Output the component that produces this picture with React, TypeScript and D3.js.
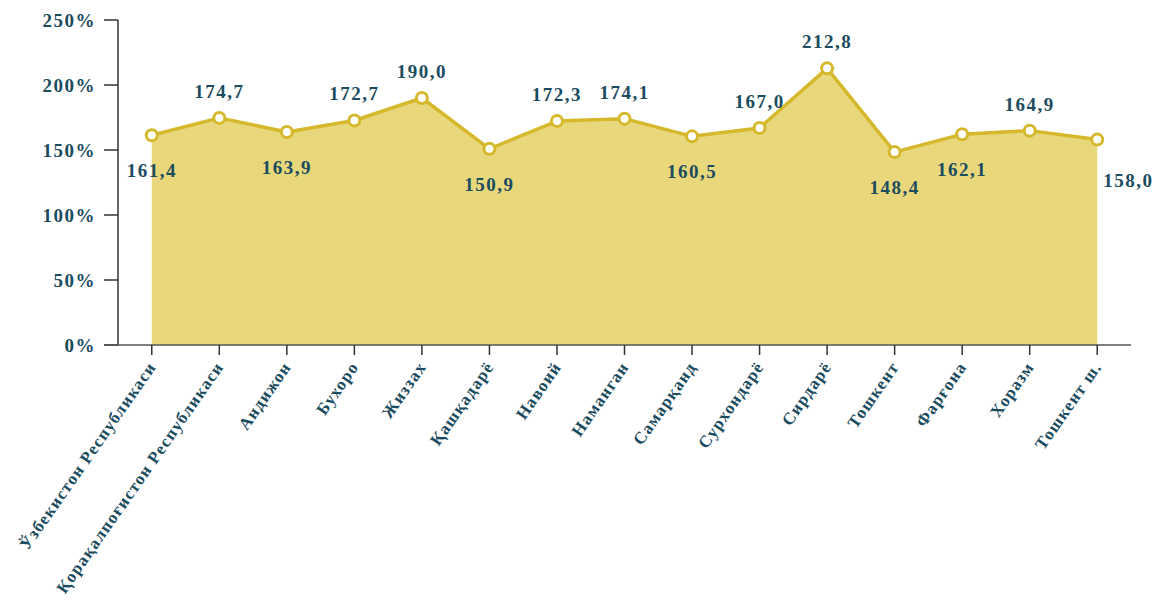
import React from "react";
import * as d3 from "d3";

const categories = [
  "Ўзбекистон Республикаси",
  "Қорақалпоғистон Республикаси",
  "Андижон",
  "Бухоро",
  "Жиззах",
  "Қашқадарё",
  "Навоий",
  "Наманган",
  "Самарқанд",
  "Сурхондарё",
  "Сирдарё",
  "Тошкент",
  "Фарғона",
  "Хоразм",
  "Тошкент ш.",
];
const values = [161.4, 174.7, 163.9, 172.7, 190.0, 150.9, 172.3, 174.1, 160.5, 167.0, 212.8, 148.4, 162.1, 164.9, 158.0];
const labelSide = ["below", "above", "below", "above", "above", "below", "above", "above", "below", "above", "above", "below", "below", "above", "right"];
const yTicks = [0, 50, 100, 150, 200, 250];

const W = 1157;
const H = 608;
const left = 118;
const right = 1131;
const top = 20;
const bottom = 345;
const textColor = "#1b4b5e";
const lineColor = "#d6b82c";
const fillColor = "#e8d87b";
const font = "'Liberation Serif', 'Times New Roman', serif";

export default function App() {
  const x = d3.scalePoint<string>().domain(categories).range([left, right]).padding(0.5);
  const y = d3.scaleLinear().domain([0, 250]).range([bottom, top]);
  const pts = values.map((v, i) => [x(categories[i]) as number, y(v)] as [number, number]);
  const line = d3.line<[number, number]>()(pts) || "";
  const area = d3
    .area<[number, number]>()
    .x((d) => d[0])
    .y0(y(0))
    .y1((d) => d[1])(pts) || "";
  const fmt = (v: number) => v.toFixed(1).replace(".", ",");

  return (
    <svg width={W} height={H} style={{ position: "absolute", left: 0, top: 0, background: "#fff" }} fontFamily={font}>
      <path d={area} fill={fillColor} />
      {/* y axis */}
      <line x1={left} x2={left} y1={top} y2={bottom} stroke="#333" strokeWidth={1.5} />
      {yTicks.map((t) => (
        <g key={t}>
          <line x1={left - 14} x2={left} y1={y(t)} y2={y(t)} stroke="#333" strokeWidth={1.5} />
          <text x={left - 22} y={y(t)} dy="0.35em" textAnchor="end" fontSize={19} letterSpacing={1.5} fontWeight="bold" fill={textColor}>
            {t}%
          </text>
        </g>
      ))}
      {/* x axis */}
      <line x1={left - 14} x2={right} y1={bottom} y2={bottom} stroke="#555" strokeWidth={1.5} />
      {categories.map((c) => {
        const cx = x(c) as number;
        return (
          <g key={c}>
            <line x1={cx} x2={cx} y1={bottom} y2={bottom + 10} stroke="#333" strokeWidth={1.5} />
            <text
              transform={`translate(${cx + 5},${bottom + 22}) rotate(-55)`}
              textAnchor="end"
              fontSize={17}
              letterSpacing={1.1}
              fontWeight="bold"
              fill={textColor}
            >
              {c}
            </text>
          </g>
        );
      })}
      <path d={line} fill="none" stroke={lineColor} strokeWidth={3.5} strokeLinejoin="round" />
      {pts.map((p, i) => (
        <circle key={i} cx={p[0]} cy={p[1]} r={5.5} fill="#fff" stroke={lineColor} strokeWidth={3} />
      ))}
      {pts.map((p, i) => {
        const side = labelSide[i];
        let tx = p[0];
        let ty = p[1];
        let anchor: "middle" | "start" = "middle";
        if (side === "above") ty = p[1] - 20;
        else if (side === "below") ty = p[1] + 42;
        else {
          tx = p[0] + 6;
          ty = p[1] + 47;
          anchor = "start";
        }
        return (
          <text key={"l" + i} x={tx} y={ty} textAnchor={anchor} fontSize={19} letterSpacing={1.5} fontWeight="bold" fill={textColor}>
            {fmt(values[i])}
          </text>
        );
      })}
    </svg>
  );
}
